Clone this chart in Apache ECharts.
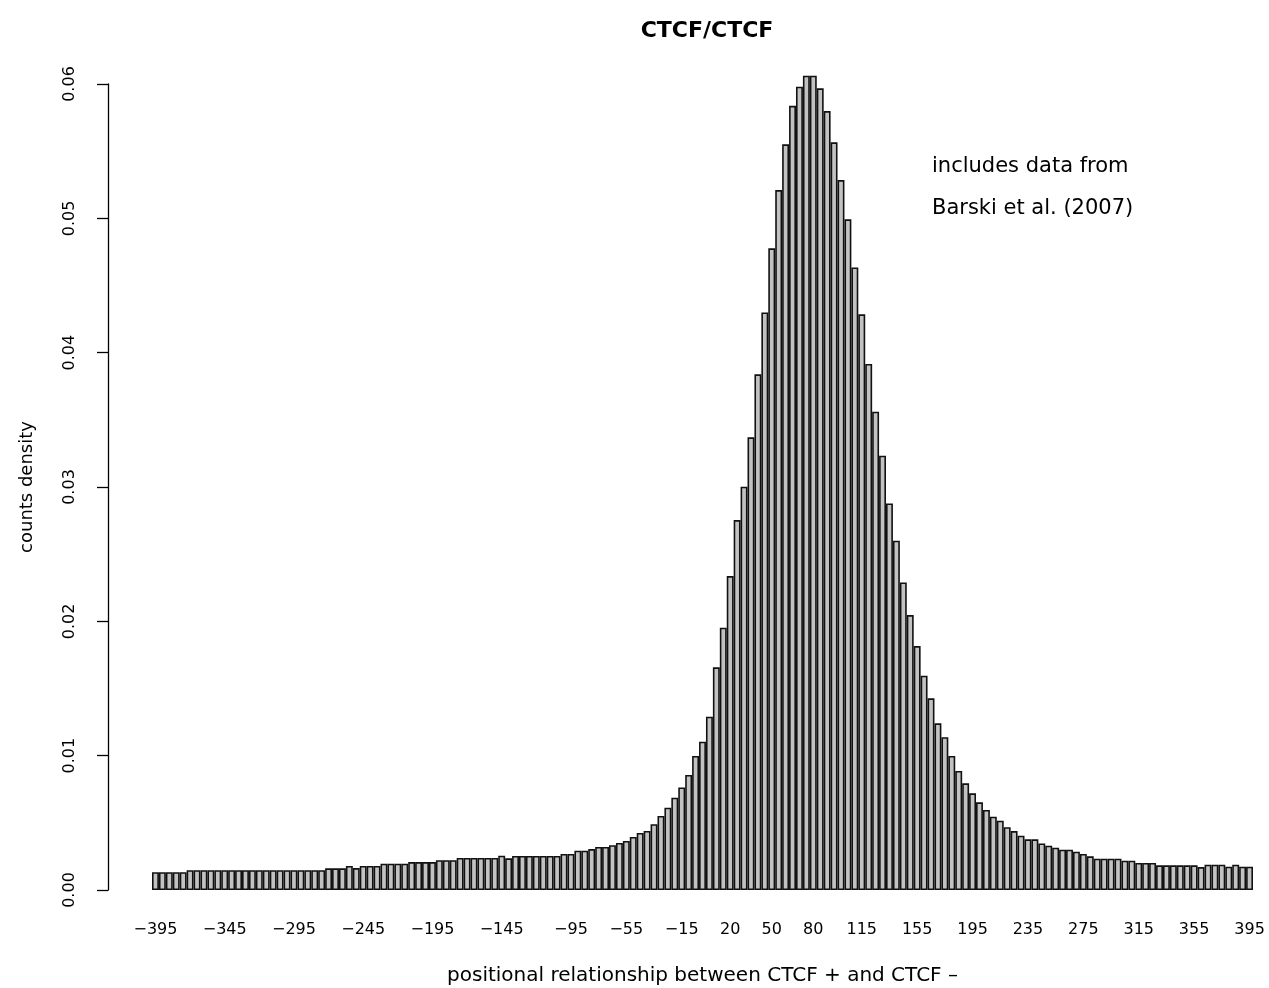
<!DOCTYPE html>
<html>
<head>
<meta charset="utf-8">
<script src="https://cdn.jsdelivr.net/npm/echarts@6/dist/echarts.min.js"></script>
<style>
  html, body { margin: 0; padding: 0; background: #fff; }
  #chart { width: 1269px; height: 988px; }
</style>
</head>
<body>
<div id="chart"></div>
<script>
// bin centres, 5 bp apart
const positions = [
  -395, -390, -385, -380, -375, -370, -365, -360, -355, -350,
  -345, -340, -335, -330, -325, -320, -315, -310, -305, -300,
  -295, -290, -285, -280, -275, -270, -265, -260, -255, -250,
  -245, -240, -235, -230, -225, -220, -215, -210, -205, -200,
  -195, -190, -185, -180, -175, -170, -165, -160, -155, -150,
  -145, -140, -135, -130, -125, -120, -115, -110, -105, -100,
  -95, -90, -85, -80, -75, -70, -65, -60, -55, -50,
  -45, -40, -35, -30, -25, -20, -15, -10, -5, 0,
  5, 10, 15, 20, 25, 30, 35, 40, 45, 50,
  55, 60, 65, 70, 75, 80, 85, 90, 95, 100,
  105, 110, 115, 120, 125, 130, 135, 140, 145, 150,
  155, 160, 165, 170, 175, 180, 185, 190, 195, 200,
  205, 210, 215, 220, 225, 230, 235, 240, 245, 250,
  255, 260, 265, 270, 275, 280, 285, 290, 295, 300,
  305, 310, 315, 320, 325, 330, 335, 340, 345, 350,
  355, 360, 365, 370, 375, 380, 385, 390, 395
];

const density = [
  0.00132, 0.00132, 0.00132, 0.00132, 0.00132, 0.00147, 0.00147, 0.00147, 0.00147, 0.00147,
  0.00147, 0.00147, 0.00147, 0.00147, 0.00147, 0.00147, 0.00147, 0.00147, 0.00147, 0.00147,
  0.00147, 0.00147, 0.00147, 0.00147, 0.00147, 0.00161, 0.00161, 0.00161, 0.00179, 0.00163,
  0.00179, 0.00179, 0.00179, 0.00196, 0.00196, 0.00196, 0.00196, 0.00208, 0.00208, 0.00208,
  0.00208, 0.00222, 0.00222, 0.00222, 0.00239, 0.00239, 0.00239, 0.00239, 0.00239, 0.00239,
  0.00255, 0.00236, 0.00253, 0.00253, 0.00253, 0.00253, 0.00253, 0.00253, 0.00253, 0.00268,
  0.00268, 0.00293, 0.00293, 0.00305, 0.0032, 0.0032, 0.00333, 0.0035, 0.00365, 0.00395,
  0.00425, 0.0044, 0.0049, 0.00551, 0.00613, 0.00687, 0.00764, 0.00856, 0.00998, 0.01104,
  0.0129, 0.01658, 0.01953, 0.02337, 0.02754, 0.03002, 0.0337, 0.03839, 0.043, 0.04777,
  0.05211, 0.05551, 0.05838, 0.0598, 0.06062, 0.06062, 0.05968, 0.05799, 0.05566, 0.05285,
  0.04993, 0.04635, 0.04286, 0.03916, 0.03561, 0.03233, 0.02878, 0.026, 0.0229, 0.02047,
  0.01816, 0.01595, 0.01427, 0.01241, 0.01137, 0.00998, 0.00886, 0.00794, 0.0072, 0.00653,
  0.00596, 0.00546, 0.00516, 0.00467, 0.00439, 0.00404, 0.00377, 0.00377, 0.00347, 0.0033,
  0.00315, 0.003, 0.003, 0.00285, 0.00268, 0.00251, 0.00233, 0.00233, 0.00233, 0.00233,
  0.00218, 0.00218, 0.00201, 0.00201, 0.00201, 0.00184, 0.00184, 0.00184, 0.00184, 0.00184,
  0.00184, 0.00171, 0.00188, 0.00188, 0.00188, 0.00174, 0.00188, 0.00174, 0.00174
];

// labels R managed to print under the bars
const tickLabels = [-395, -345, -295, -245, -195, -145, -95, -55, -15, 20, 50, 80, 115, 155, 195, 235, 275, 315, 355, 395];
const yTicks = [0, 0.01, 0.02, 0.03, 0.04, 0.05, 0.06];

const font = 'DejaVu Sans';
let chart = echarts.init(document.getElementById('chart'));

let option = {
  animation: false,
  backgroundColor: '#fff',
  title: {
    text: 'CTCF/CTCF',
    left: 702,
    top: 15,
    textAlign: 'center',
    textStyle: { fontFamily: font, fontSize: 22, fontWeight: 'bold', color: '#000' }
  },
  grid: [
    { left: 152, right: 16, top: 76, bottom: 98, outerBoundsMode: 'none' },
    // only carries the y axis, drawn apart from the bars like R does
    { left: 108, right: 16, top: 84, bottom: 98, outerBoundsMode: 'none' }
  ],
  xAxis: [
    {
      type: 'category',
      gridIndex: 0,
      data: positions.map(String),
      boundaryGap: true,
      axisLine: { show: false },
      axisTick: { show: false },
      axisLabel: {
        interval: (idx, val) => tickLabels.includes(Number(val)),
        formatter: v => v.replace('-', '\u2212'),
        margin: 32,
        fontFamily: font,
        fontSize: 16,
        color: '#000'
      },
      name: 'positional relationship between CTCF + and CTCF \u2013',
      nameLocation: 'middle',
      nameGap: 76,
      nameTextStyle: { fontFamily: font, fontSize: 20, color: '#000' }
    },
    { type: 'value', gridIndex: 1, show: false }
  ],
  yAxis: [
    { type: 'value', gridIndex: 0, min: 0, max: 0.0606, show: false },
    {
      type: 'value',
      gridIndex: 1,
      min: yTicks[0],
      max: yTicks[yTicks.length - 1],
      interval: 0.01,
      axisLine: { show: true, lineStyle: { color: '#000', width: 1.3 } },
      axisTick: { show: true, length: 11, lineStyle: { color: '#000', width: 1.3 } },
      splitLine: { show: false },
      axisLabel: {
        rotate: 90,
        margin: 30,
        formatter: v => v.toFixed(2),
        fontFamily: font,
        fontSize: 16,
        color: '#000'
      },
      name: 'counts density',
      nameLocation: 'middle',
      nameGap: 72,
      nameRotate: 90,
      nameTextStyle: { fontFamily: font, fontSize: 18, color: '#000' }
    }
  ],
  graphic: [
    {
      type: 'text', left: 932, top: 156,
      style: { text: 'includes data from', font: '21px "DejaVu Sans"', fill: '#000' }
    },
    {
      type: 'text', left: 932, top: 198,
      style: { text: 'Barski et al. (2007)', font: '21px "DejaVu Sans"', fill: '#000' }
    }
  ],
  series: [
    {
      name: 'density',
      type: 'bar',
      xAxisIndex: 0,
      yAxisIndex: 0,
      barCategoryGap: 0,
      itemStyle: { color: '#c2c2c2', borderColor: '#111', borderWidth: 1.6 },
      data: density
    }
  ]
};

chart.setOption(option);
</script>
</body>
</html>
